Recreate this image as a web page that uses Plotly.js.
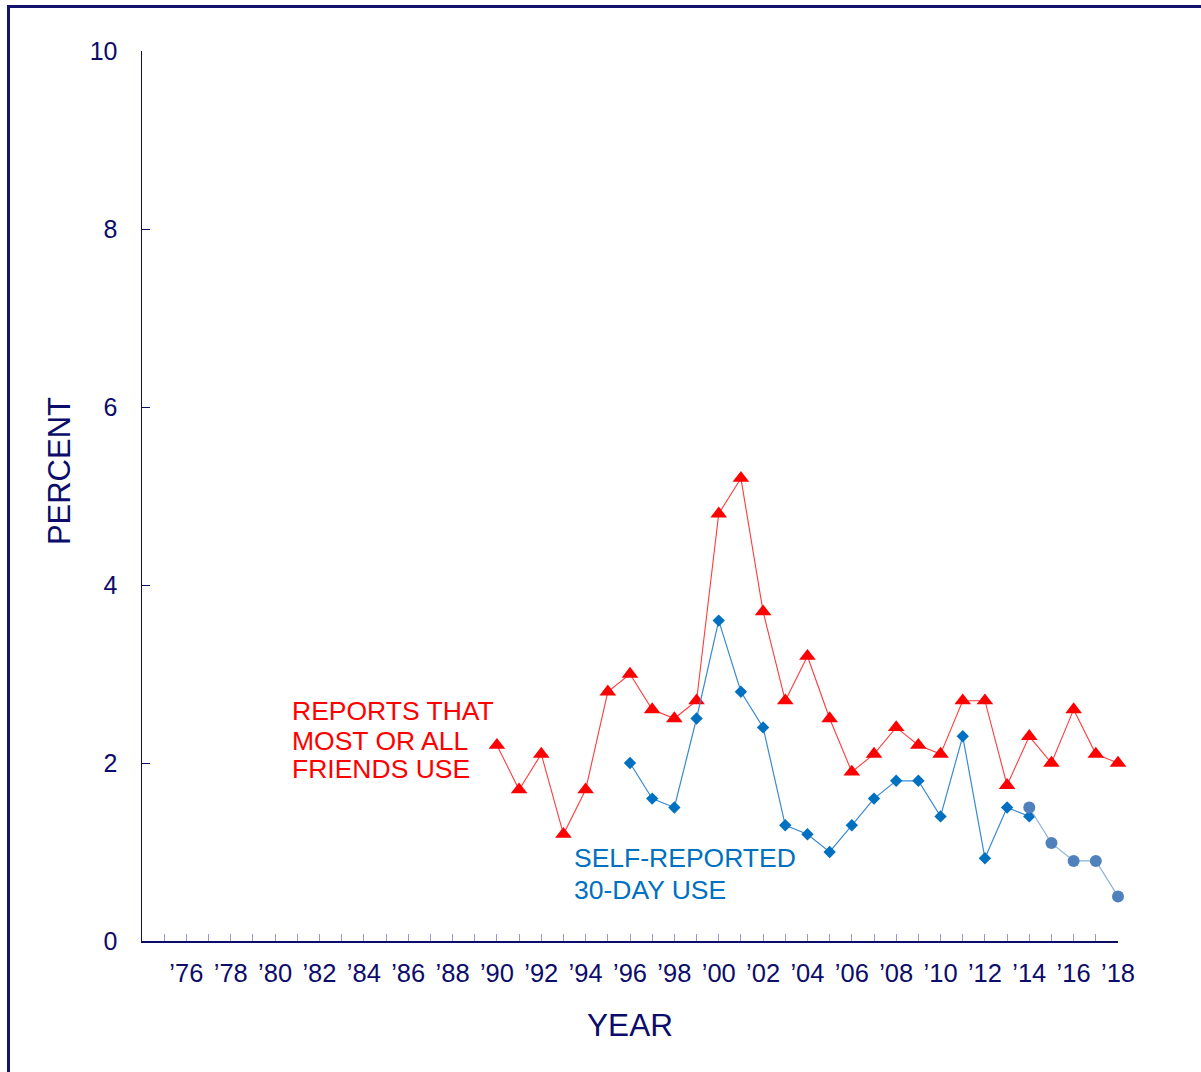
<!DOCTYPE html>
<html>
<head>
<meta charset="utf-8">
<script src="https://cdn.plot.ly/plotly-3.0.1.min.js"></script>
<style>
  html, body { margin: 0; padding: 0; background: #ffffff; overflow: hidden; }
  #frame { position: absolute; left: 7px; top: 5px; width: 1400px; height: 1300px; border: 3px solid #14146e; box-sizing: border-box; pointer-events: none; z-index: 5; }
  #chart { position: absolute; left: 0; top: 0; width: 1201px; height: 1072px; }
</style>
</head>
<body>
<div id="chart"></div>
<div id="frame"></div>
<script>
// ---- data ----
const friendsYears = [1990,1991,1992,1993,1994,1995,1996,1997,1998,1999,2000,2001,2002,2003,2004,2005,2006,2007,2008,2009,2010,2011,2012,2013,2014,2015,2016,2017,2018];
const friendsUse  = [2.2,1.7,2.1,1.2,1.7,2.8,3.0,2.6,2.5,2.7,4.8,5.2,3.7,2.7,3.2,2.5,1.9,2.1,2.4,2.2,2.1,2.7,2.7,1.75,2.3,2.0,2.6,2.1,2.0];

const selfYears = [1996,1997,1998,1999,2000,2001,2002,2003,2004,2005,2006,2007,2008,2009,2010,2011,2012,2013,2014];
const selfUse   = [2.0,1.6,1.5,2.5,3.6,2.8,2.4,1.3,1.2,1.0,1.3,1.6,1.8,1.8,1.4,2.3,0.93,1.5,1.4];

const newYears = [2014,2015,2016,2017,2018];
const newUse   = [1.5,1.1,0.9,0.9,0.5];

const xTickYears  = [1976,1978,1980,1982,1984,1986,1988,1990,1992,1994,1996,1998,2000,2002,2004,2006,2008,2010,2012,2014,2016,2018];
const xTickLabels = ["\u201976","\u201978","\u201980","\u201982","\u201984","\u201986","\u201988","\u201990","\u201992","\u201994","\u201996","\u201998","\u201900","\u201902","\u201904","\u201906","\u201908","\u201910","\u201912","\u201914","\u201916","\u201918"];
const yTickValues = [0,2,4,6,8,10];

const friendsLabelLines = ["REPORTS THAT", "MOST OR ALL", "FRIENDS USE"];
const selfLabelLines = ["SELF-REPORTED", "30-DAY USE"];

// ---- styles ----
const navy = "#0c0c6a";
const FONT = "Liberation Sans, Arial, Helvetica, sans-serif";

const traces = [
  {
    x: friendsYears, y: friendsUse, type: "scatter", mode: "lines+markers",
    line: { color: "#ff3b3b", width: 1.1 },
    marker: { symbol: "triangle-up", size: 14.5, color: "#ff0000" },
    cliponaxis: false, hoverinfo: "skip"
  },
  {
    x: selfYears, y: selfUse, type: "scatter", mode: "lines+markers",
    line: { color: "#3a8ad2", width: 1.2 },
    marker: { symbol: "diamond", size: 9.5, color: "#0070c0" },
    cliponaxis: false, hoverinfo: "skip"
  },
  {
    x: newYears, y: newUse, type: "scatter", mode: "lines+markers",
    line: { color: "#8fb0db", width: 1.2 },
    marker: { symbol: "circle", size: 12, color: "#4f81bd" },
    cliponaxis: false, hoverinfo: "skip"
  }
];

// label line placement (paper coordinates)
const friendsLineY = [0.2589, 0.2252, 0.1931];
const selfLineY = [0.0932, 0.0573];

const annotations = [
  {
    text: "PERCENT", xref: "paper", yref: "paper", x: -0.085, y: 0.528,
    xanchor: "center", yanchor: "middle", textangle: -90, showarrow: false,
    font: { size: 31, color: navy, family: FONT }
  }
];
friendsLabelLines.forEach((t, i) => annotations.push({
  text: t, xref: "paper", yref: "paper", x: 0.152, y: friendsLineY[i],
  xanchor: "left", yanchor: "middle", align: "left", showarrow: false,
  font: { size: 26.5, color: "#ff0000", family: FONT }
}));
selfLabelLines.forEach((t, i) => annotations.push({
  text: t, xref: "paper", yref: "paper", x: 0.441, y: selfLineY[i],
  xanchor: "left", yanchor: "middle", align: "left", showarrow: false,
  font: { size: 26.5, color: "#0070c0", family: FONT }
}));

const layout = {
  width: 1201, height: 1072,
  margin: { l: 142, r: 83, t: 51, b: 130.5 },
  paper_bgcolor: "#ffffff", plot_bgcolor: "#ffffff",
  showlegend: false,
  font: { family: FONT, color: navy },
  xaxis: {
    range: [1974, 2018],
    tickmode: "array", tickvals: xTickYears, ticktext: xTickLabels,
    ticks: "inside", ticklen: 7, tickwidth: 1, tickcolor: "#9a9ac6",
    minor: { tickmode: "linear", tick0: 1975, dtick: 1, ticks: "inside", ticklen: 7, tickwidth: 1, tickcolor: "#9a9ac6", showgrid: false },
    showline: true, linecolor: navy, linewidth: 1.5,
    showgrid: false, zeroline: false,
    tickfont: { size: 25.5, color: navy, family: FONT },
    ticklabelstandoff: 9,
    title: { text: "YEAR", font: { size: 31.5, color: navy, family: FONT }, standoff: 28 }
  },
  yaxis: {
    range: [0, 10],
    tickmode: "array", tickvals: yTickValues,
    ticks: "inside", ticklen: 8, tickwidth: 1, tickcolor: navy,
    showline: true, linecolor: navy, linewidth: 1.5,
    showgrid: false, zeroline: false,
    tickfont: { size: 25, color: navy, family: FONT },
    ticklabelstandoff: 18
  },
  annotations: annotations
};

Plotly.newPlot("chart", traces, layout, { displayModeBar: false, staticPlot: true });
</script>
</body>
</html>
